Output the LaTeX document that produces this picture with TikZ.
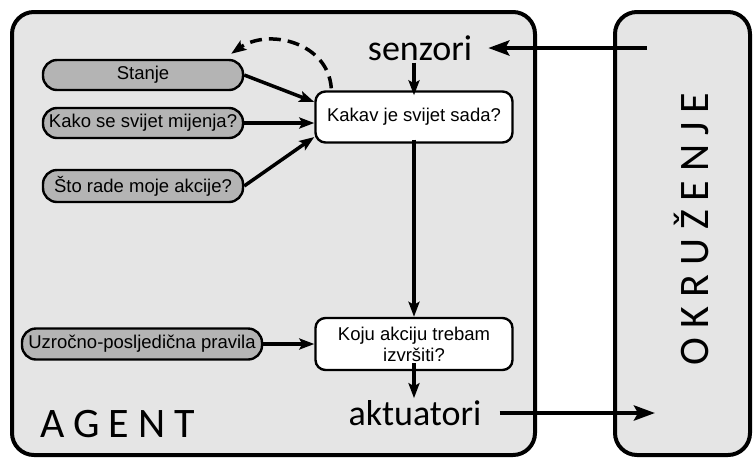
\documentclass[tikz,border=0pt]{standalone}
\usepackage{fontspec}
\setmainfont{Liberation Sans}
\newfontfamily\calfont{Carlito}
\usetikzlibrary{arrows.meta}
\definecolor{panel}{RGB}{229,229,229}
\definecolor{pill}{RGB}{180,180,180}
\begin{document}
\begin{tikzpicture}[x=1pt,y=-1pt,
 panelbox/.style={draw=black, line width=4pt, fill=panel, rounded corners=22pt},
 pillbox/.style={draw=black, line width=2.4pt, fill=pill, rounded corners=14pt, minimum width=200pt, minimum height=30pt, inner sep=0pt, font=\fontsize{18.5}{21}\selectfont},
 qbox/.style={draw=black, line width=2.4pt, fill=white, rounded corners=10pt, minimum width=197pt, minimum height=51pt, inner sep=0pt, align=center, font=\fontsize{18.5}{21}\selectfont},
 bigtext/.style={inner sep=0pt, font=\calfont\fontsize{36}{40}\selectfont},
 titletext/.style={inner sep=0pt, font=\calfont\fontsize{42}{46}\selectfont},
 flow/.style={line width=3.5pt, -{Stealth[length=15pt,width=11pt,inset=3pt]}},
 envflow/.style={line width=4.5pt, -{Stealth[length=21pt,width=15pt,inset=4pt]}},
]
\useasboundingbox (0,0) rectangle (754,459);
\fill[white] (0,0) rectangle (754,459);
\draw[panelbox] (12,12) rectangle (535,455);
\draw[panelbox] (615,12) rectangle (750,455);

\node[pillbox] (stanje) at (143,75) {Stanje};
\node[pillbox] (kako) at (143,123) {Kako se svijet mijenja?};
\node[pillbox, minimum height=32pt] (sto) at (143,186) {Što rade moje akcije?};
\node[pillbox, minimum width=240pt, minimum height=31pt] (uzr) at (142,344) {Uzročno-posljedična pravila};

\node[qbox] (kakav) at (414,117) {Kakav je svijet sada?};
\node[qbox, minimum height=52pt] (koju) at (414,344) {Koju akciju trebam\\izvršiti?};

\node[bigtext] (senzori) at (420,48) {senzori};
\node[bigtext] (aktuatori) at (415,413) {aktuatori};

\node[titletext, anchor=base west] (agent) at (40,437) {A\kern9pt G\kern9pt E\kern9pt N\kern9pt T};
\node[titletext, rotate=90] (okr) at (691,229) {O\kern9pt K\kern9pt R\kern9pt U\kern9pt Ž\kern9pt E\kern9pt N\kern9pt J\kern9pt E};

\coordinate (envin) at (647,48);
\coordinate (envout) at (655,413);

\draw[envflow, shorten >=16pt] (envin) -- (senzori.east |- envin);
\draw[flow] (kakav.north |- senzori.south) ++(0,2) -- ([yshift=-5pt]kakav.north);
\draw[flow] ([yshift=4pt]kakav.south) -- (koju.north);
\draw[flow, shorten >=2pt] ([yshift=8pt]koju.south) -- (koju.south |- aktuatori.north);
\draw[envflow, shorten <=18pt] (aktuatori.east) -- (envout);

\draw[flow] (stanje.east) -- ([yshift=15pt]kakav.west);
\draw[flow] (kako.east) -- (kakav.west |- kako.east);
\draw[flow] (sto.east) -- ([yshift=-20pt]kakav.west);
\draw[flow] (uzr.east) -- (koju.west);

\draw[flow, dash pattern=on 12pt off 7pt] ([xshift=17pt,yshift=2pt]kakav.north west) .. controls (328,42) and (268,28) .. ([xshift=-13pt,yshift=5pt]stanje.north east);
\end{tikzpicture}
\end{document}
